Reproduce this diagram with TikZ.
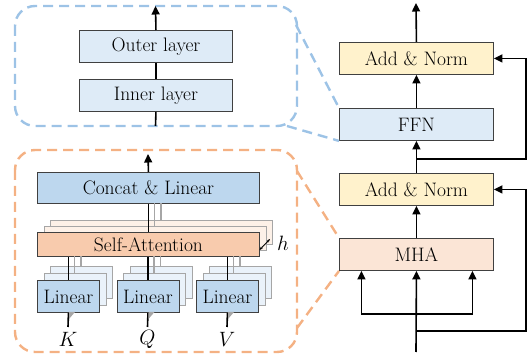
\documentclass[tikz,border=0pt]{standalone}
\usepackage{fontspec}
\setmainfont{Latin Modern Roman}
\usetikzlibrary{arrows.meta}
\definecolor{lblue}{HTML}{DEEBF7}
\definecolor{mblue}{HTML}{BDD7EE}
\definecolor{lyellow}{HTML}{FFF2CC}
\definecolor{lorange}{HTML}{FBE5D6}
\definecolor{morange}{HTML}{F8CBAD}
\definecolor{porange}{HTML}{FDF1E8}
\definecolor{pblue}{HTML}{EAF2FA}
\definecolor{dblue}{HTML}{9DC3E6}
\definecolor{dorange}{HTML}{F4B183}
\definecolor{bordergray}{HTML}{404040}
\definecolor{stackgray}{HTML}{A6A6A6}
\begin{document}
\begin{tikzpicture}[x=1pt,y=-1pt,
  font=\fontsize{19.5}{22}\selectfont,
  blk/.style={draw=bordergray, line width=0.9pt, minimum height=32pt, inner sep=0pt, anchor=north west},
  conn/.style={line width=1.6pt, black},
  arr/.style={conn, -{Triangle[length=8.5pt,width=8pt]}},
  graybar/.style={line width=1.6pt, stackgray},
  dashbox/.style={line width=2.4pt, dash pattern=on 10pt off 6pt, rounded corners=20pt},
  zoomline/.style={line width=2.4pt, dash pattern=on 10pt off 6pt},
]
\useasboundingbox (0,0) rectangle (531,358);

% ---------- dashed frames ----------
\draw[dashbox, dblue] (15,6) rectangle (297,126);
\draw[dashbox, dorange] (15,150) rectangle (297,352);

% ---------- right column ----------
\node[blk, fill=lyellow, minimum width=154pt] (an2) at (339,42) {Add \& Norm};
\node[blk, fill=lblue, minimum width=154pt] (ffn) at (339,108) {FFN};
\node[blk, fill=lyellow, minimum width=154pt] (an1) at (339,173) {Add \& Norm};
\node[blk, fill=lorange, minimum width=154pt] (mha) at (339,238) {MHA};

\coordinate (top) at (416,3);
\coordinate (in) at (416,352);
\coordinate (split) at (416,314);
\coordinate (res1) at (416,331);
\coordinate (res2) at (416,159);

\draw[arr] (an2.north) -- (top);
\draw[arr] (ffn.north) -- (an2.south);
\draw[arr] (an1.north) -- (ffn.south);
\draw[arr] (mha.north) -- (an1.south);
\draw[arr] (in) -- (mha.south);
\draw[arr] (split) -| ([xshift=-55pt]mha.south);
\draw[arr] (split) -| ([xshift=56pt]mha.south);
\draw[arr] (res1) -- (526,331) |- (an1.east);
\draw[arr] (res2) -- (526,159) |- (an2.east);

% ---------- blue detail ----------
\node[blk, fill=lblue, minimum width=153pt] (outer) at (79,30) {Outer layer};
\node[blk, fill=lblue, minimum width=153pt] (inner) at (79,79) {Inner layer};
\coordinate (bin) at (155.5,126);
\coordinate (bout) at (155.5,6);
\draw[conn] (bin) -- (inner.south);
\draw[conn] (inner.north) -- (outer.south);
\draw[arr] (outer.north) -- (bout);

% blue zoom lines
\coordinate (bz1) at (296,25);
\coordinate (bz2) at (287,126);
\draw[zoomline, dblue] (bz1) -- (ffn.north west);
\draw[zoomline, dblue] (bz2) -- (ffn.south west);

% orange zoom lines
\coordinate (oz1) at (297,171);
\coordinate (oz2) at (297,328);
\draw[zoomline, dorange] (oz1) -- (mha.north west);
\draw[zoomline, dorange] (oz2) -- (mha.south west);

% ---------- orange detail ----------
\node[blk, fill=mblue, minimum width=222pt, minimum height=31pt] (concat) at (37,172) {Concat \& Linear};

% stacked self-attention
\node[blk, draw=stackgray, fill=porange, minimum width=222pt, minimum height=24pt] (sa3) at (50,220) {};
\node[blk, draw=stackgray, fill=porange, minimum width=222pt, minimum height=24pt] (sa2) at (43.5,226) {};
\node[blk, fill=morange, minimum width=222pt, minimum height=24pt] (sa) at (37,232) {Self-Attention};

\draw[graybar] (sa3.north west -| 161,0) -- (161,203);
\draw[graybar] (sa2.north west -| 154.5,0) -- (154.5,203);
\draw[conn] (sa.north) -- (concat.south);
\draw[arr] (concat.north) -- (148,154);

% h label
\node[anchor=west, inner sep=0pt] (hlab) at (277,243) {$h$};
\coordinate (h1) at (259.5,250);
\coordinate (h2) at (270,239);
\draw[line width=0.9pt, {Stealth[length=3.5pt]}-{Stealth[length=3.5pt]}] (h1) -- (h2);

% linear stacks
\foreach \n/\x/\lab in {k/37/K, q/116.5/Q, v/196/V}{
  \node[blk, draw=stackgray, fill=pblue, minimum width=62pt] (\n3) at (\x+13,266) {};
  \node[blk, draw=stackgray, fill=pblue, minimum width=62pt] (\n2) at (\x+6.5,273) {};
  \node[blk, fill=mblue, minimum width=62pt] (\n1) at (\x,280) {Linear};
  \draw[graybar] (\n3.north west -| \x+44,0) -- (\x+44,256);
  \draw[graybar] (\n2.north west -| \x+37.5,0) -- (\x+37.5,256);
  \draw[conn] (\n1.north) -- (\n1.north |- sa.south);
  \coordinate (\n in) at (\x+31,327);
  \draw[conn] (\n in) -- (\n1.south);
  \fill[stackgray] (\x+32,312) -- (\x+38,312) -- (\x+32,319) -- cycle;
  \node[inner sep=0pt] (\n lab) at (\x+31,339) {$\lab$};
}
\end{tikzpicture}
\end{document}
